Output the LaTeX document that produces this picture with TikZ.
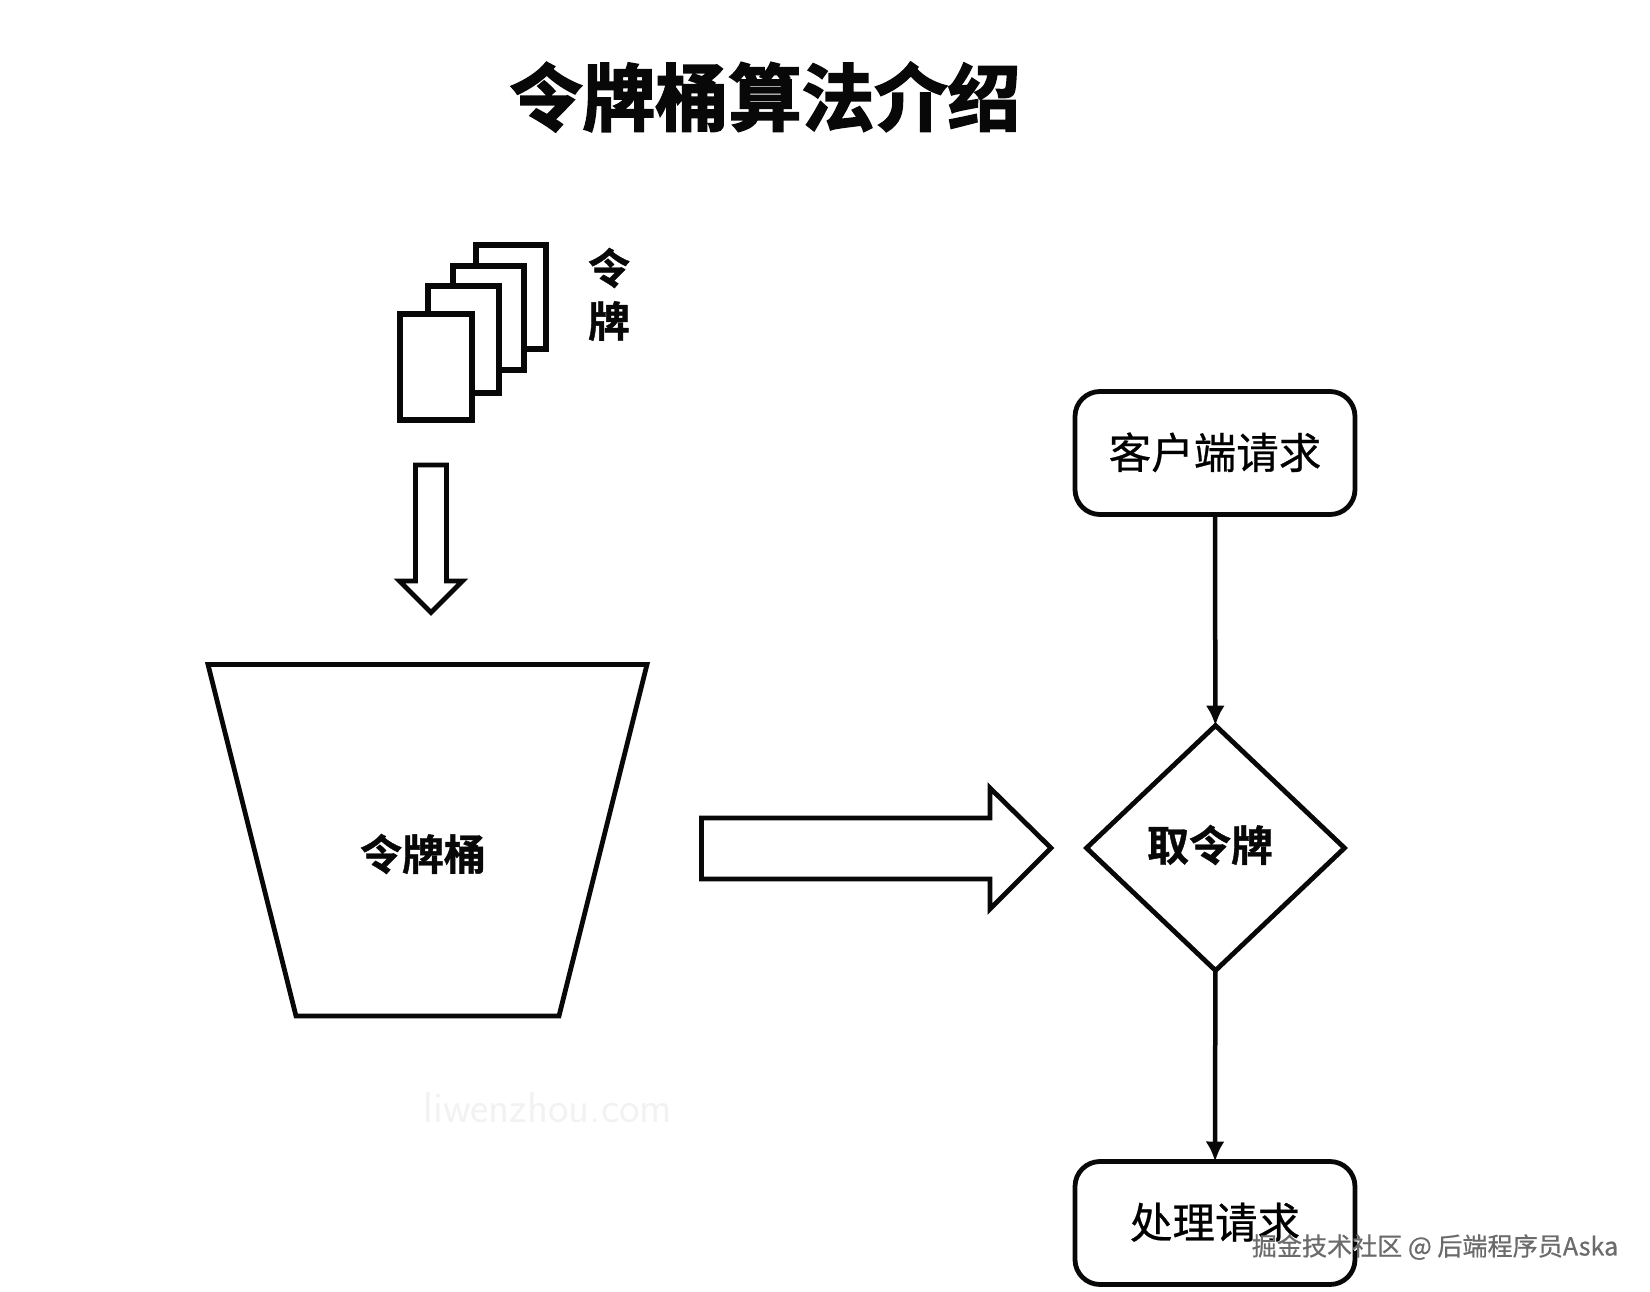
\documentclass[tikz,border=0pt]{standalone}
\usepackage{fontspec}
\usepackage{tikz}
\usetikzlibrary{positioning,arrows.meta,shapes.geometric}
\newfontfamily\cjk[FakeBold=0.6]{Noto Sans CJK SC}
\newfontfamily\cjkbold[FakeBold=1.0]{Noto Sans CJK SC Bold}
\newfontfamily\cjkheavy[FakeBold=2.4]{Noto Sans CJK SC Bold}
\definecolor{inkblack}{RGB}{8,8,8}
\tikzset{
  outline/.style={draw=inkblack,line width=4.8pt,fill=white,line join=miter},
  cardbox/.style={draw=inkblack,line width=6.5pt,fill=white},
  stepbox/.style={outline,rectangle,rounded corners=25pt,minimum width=280pt,minimum height=123pt,inner sep=0pt,outer sep=0pt,font=\cjk\fontsize{42.5}{46}\selectfont},
  flowline/.style={draw=inkblack,line width=4.5pt,-{Latex[length=20pt,width=19pt]}},
  boldlabel/.style={text=inkblack,inner sep=0pt,font=\cjkbold\fontsize{42}{46}\selectfont},
}
\begin{document}
\begin{tikzpicture}[x=1pt,y=-1pt]
        \useasboundingbox (0,0) rectangle (1650,1292);
        \node[text=inkblack,inner sep=0pt,font=\cjkheavy\fontsize{73}{80}\selectfont] (title) at (765,97) {令牌桶算法介绍};
        % stack of tokens
        \foreach \x/\y/\u/\v in {476/245/546/349,453/266/524/370,428/286/499/393,400/314/472/420}
            \draw[cardbox] (\x,\y) rectangle (\u,\v);
        \node[boldlabel] (tokenA) at (609,268) {令};
        \node[boldlabel] (tokenB) at (609,321) {牌};
        \draw[outline] (415.5,465) -- (446.5,465) -- (446.5,581) -- (462.5,581) -- (431,612.5) -- (399.5,581) -- (415.5,581) -- cycle;
        % bucket
        \draw[outline] (208,664.5) -- (647,664.5) -- (559,1016) -- (296,1016) -- cycle;
        \node[boldlabel] (bucket) at (423,854) {令牌桶};
        \draw[outline] (701.5,818) -- (990,818) -- (990,788) -- (1051,848) -- (990,909) -- (990,879) -- (701.5,879) -- cycle;
        % request flow
        \node[stepbox] (request) at (1215,453) {\raisebox{5pt}{客户端请求}};
        \node[outline,diamond,aspect=1.065,minimum width=258pt,minimum height=245pt,inner sep=0pt,outer sep=0pt] (take) at (1215.5,848) {};
        \node[boldlabel] (takelabel) at (1210,845) {取令牌};
        \node[stepbox] (handle) at (1215,1223) {\raisebox{5pt}{处理请求}};
        \draw[flowline] (request) -- (take);
        \draw[flowline] (take) -- (handle);
        % watermarks
        \node[text=black!5,inner sep=0pt,font=\fontsize{43.5}{48}\selectfont\sffamily] (siteA) at (548,1108) {liwenzhou.com};
        \node[text=white,inner sep=0pt,font=\cjk\fontsize{25.1}{28}\selectfont] (markB) at (1436,1248) {掘金技术社区 @ 后端程序员Aska};
        \node[text=black!58,inner sep=0pt,font=\cjk\fontsize{25.1}{28}\selectfont] (markA) at (1435,1247) {掘金技术社区 @ 后端程序员Aska};
      \end{tikzpicture}
\end{document}
